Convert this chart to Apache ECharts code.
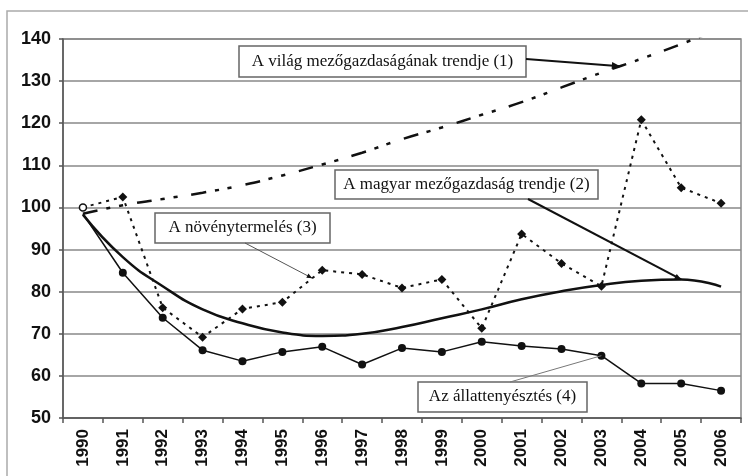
<!DOCTYPE html>
<html>
<head>
<meta charset="utf-8">
<script src="https://cdn.jsdelivr.net/npm/echarts@6/dist/echarts.min.js"></script>
<style>
  html, body { margin: 0; padding: 0; background: #fff; }
  #chart { width: 748px; height: 476px; }
</style>
</head>
<body>
<div id="chart"></div>
<script>
// év
const years = ['1990', '1991', '1992', '1993', '1994', '1995', '1996', '1997', '1998',
  '1999', '2000', '2001', '2002', '2003', '2004', '2005', '2006']

// (1) világ trend, (2) magyar trend, (3) növénytermelés, (4) állattenyésztés
const worldTrend = [98.5, 100.5, 102, 103.5, 105.3, 107.6, 110.2, 113, 116.2, 119, 122, 125, 128.5, 132, 135.3, 138.8, 142.5]
const huTrend = [98.3, 88.2, 81.3, 75.8, 72.5, 70.3, 69.5, 70.0, 71.6, 73.7, 75.8, 78.2, 80.1, 81.6, 82.6, 82.9, 81.2]
const crops = [100, 102.5, 76.2, 69.2, 75.9, 77.5, 85.1, 84.1, 80.9, 82.9, 71.3, 93.7, 86.7, 81.3, 120.8, 104.7, 101]
const livestock = [98.5, 84.5, 73.8, 66.1, 63.5, 65.7, 66.9, 62.7, 66.6, 65.7, 68.1, 67.1, 66.4, 64.8, 58.2, 58.2, 56.5]

const yTicks = [50, 140, 10] // min, max, interval

const chart = echarts.init(document.getElementById('chart'))

const serif = '"Liberation Serif", "DejaVu Serif", serif'
const sans = '"Liberation Sans", Arial, sans-serif'

let cropData = crops.map((v, i) => {
  if (i === 0) {
    return { value: v, symbol: 'circle', symbolSize: 7, itemStyle: { color: '#fff', borderColor: '#111', borderWidth: 1.5 } }
  }
  return v
})

let liveData = livestock.map((v, i) => i === 0 ? { value: v, symbol: 'none' } : v)

chart.setOption({
  animation: false,
  grid: {
    left: 63, top: 39, right: 7, bottom: 58,
    show: true, borderColor: '#888', borderWidth: 1.5
  },
  xAxis: {
    type: 'category',
    data: years,
    boundaryGap: true,
    axisLine: { lineStyle: { color: '#555', width: 1.5 } },
    axisTick: { show: true, interval: 0, length: 5, lineStyle: { color: '#555', width: 1.5 } },
    axisLabel: { interval: 0, rotate: 90, margin: 11, color: '#111', fontFamily: sans, fontWeight: 'bold', fontSize: 17 },
    splitLine: { show: false }
  },
  yAxis: {
    type: 'value',
    min: yTicks[0], max: yTicks[1], interval: yTicks[2],
    axisLine: { show: true, lineStyle: { color: '#555', width: 1.5 } },
    axisTick: { show: true, length: 4, lineStyle: { color: '#555', width: 1.5 } },
    axisLabel: { margin: 12, color: '#111', fontFamily: sans, fontWeight: 'bold', fontSize: 18 },
    splitLine: { lineStyle: { color: '#888', width: 1.5 } }
  },
  series: [
    {
      name: 'A világ mezőgazdaságának trendje (1)',
      type: 'line', data: worldTrend, smooth: true, symbol: 'none', clip: true,
      lineStyle: { color: '#111', width: 2.5, type: [15, 9, 4, 9, 4, 14] }
    },
    {
      name: 'A magyar mezőgazdaság trendje (2)',
      type: 'line', data: huTrend, smooth: true, symbol: 'none',
      lineStyle: { color: '#111', width: 2.5 }
    },
    {
      name: 'A növénytermelés (3)',
      type: 'line', data: cropData, symbol: 'diamond', symbolSize: 9,
      itemStyle: { color: '#111' },
      lineStyle: { color: '#111', width: 2, type: [3, 5] }
    },
    {
      name: 'Az állattenyésztés (4)',
      type: 'line', data: liveData, symbol: 'circle', symbolSize: 8,
      itemStyle: { color: '#111' },
      lineStyle: { color: '#111', width: 1.5 }
    }
  ]
})

// pont a sorozaton, két adat között interpolálva
function pt(seriesIndex, values, i, t) {
  let a = chart.convertToPixel({ seriesIndex }, [i, values[i]])
  if (!t) return a
  let b = chart.convertToPixel({ seriesIndex }, [i + 1, values[i + 1]])
  return [a[0] + (b[0] - a[0]) * t, a[1] + (b[1] - a[1]) * t]
}

function arrowHead(from, to, size) {
  let ang = Math.atan2(to[1] - from[1], to[0] - from[0])
  let p1 = [to[0] - size * Math.cos(ang - 0.4), to[1] - size * Math.sin(ang - 0.4)]
  let p2 = [to[0] - size * Math.cos(ang + 0.4), to[1] - size * Math.sin(ang + 0.4)]
  return { type: 'polygon', shape: { points: [to, p1, p2] }, style: { fill: '#111' }, z: 20 }
}

function leader(from, to, width, color, head) {
  let items = [{
    type: 'line', shape: { x1: from[0], y1: from[1], x2: to[0], y2: to[1] },
    style: { stroke: color, lineWidth: width }, z: 20
  }]
  if (head) items.push(arrowHead(from, to, head))
  return items
}

function box(x, y, w, h, text) {
  return {
    type: 'group', x, y, z: 30,
    children: [
      { type: 'rect', shape: { x: 0, y: 0, width: w, height: h }, style: { fill: '#fff', stroke: '#666', lineWidth: 1.5 } },
      { type: 'text', x: w / 2, y: h / 2, style: { text, fill: '#111', font: '17px ' + serif, align: 'center', verticalAlign: 'middle' } }
    ]
  }
}

let e1 = pt(0, worldTrend, 13, 0.47)
let e2 = pt(1, huTrend, 15)
let e3 = pt(2, crops, 5, 0.75)
let e4 = pt(3, livestock, 13)

chart.setOption({
  graphic: [
    { type: 'rect', shape: { x: 7, y: 11, width: 780, height: 500 }, style: { fill: 'none', stroke: '#aaa', lineWidth: 1.5 }, z: 0, silent: true },
    ...leader([526, 59], e1, 2, '#111', 9),
    ...leader([528, 199], e2, 2, '#111', 7),
    ...leader([245, 243], e3, 1, '#555', 6),
    ...leader([510, 382], e4, 1, '#777', 0),
    box(239, 46, 287, 31, 'A világ mezőgazdaságának trendje (1)'),
    box(335, 170, 263, 29, 'A magyar mezőgazdaság trendje (2)'),
    box(155, 213, 175, 30, 'A növénytermelés (3)'),
    box(418, 382, 169, 30, 'Az állattenyésztés (4)')
  ]
})
</script>
</body>
</html>
